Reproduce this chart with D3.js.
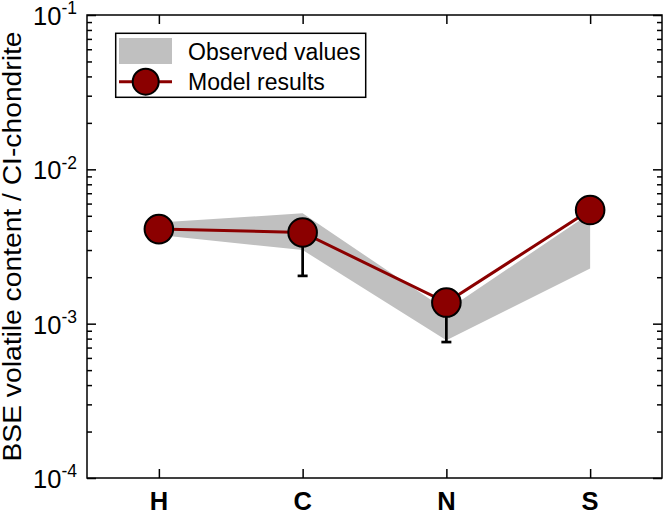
<!DOCTYPE html>
<html>
<head>
<meta charset="utf-8">
<script src="https://cdn.jsdelivr.net/npm/d3@7"></script>
<style>
  body { margin: 0; background: #fff; }
  svg { display: block; }
  text { font-family: "Liberation Sans", Arial, Helvetica, sans-serif; fill: #000; }
</style>
</head>
<body>
<svg id="chart" width="664" height="514"></svg>
<script>
// ---- data ----
const categories = ["H", "C", "N", "S"];
const modelValues = [0.0041, 0.0039, 0.00137, 0.00545];
const errorLow = [null, 0.00204, 0.00076, null];
const observedHigh = [0.00452, 0.00519, 0.00122, 0.0052];
const observedLow = [0.00375, 0.0030, 0.00078, 0.00228];
const yMajorTicks = [1e-4, 1e-3, 1e-2, 1e-1];
const yTickExponents = ["-4", "-3", "-2", "-1"];
const legendLabels = ["Observed values", "Model results"];
const yTitle = "BSE volatile content / CI-chondrite";

// ---- layout ----
const L = 87, R = 662, T = 15, B = 478;
const red = "#8b0000", gray = "#c0c0c0";
const svg = d3.select("#chart");

const x = d3.scalePoint().domain(categories).range([L, R]).padding(0.5);
const y = d3.scaleLog().domain([1e-4, 1e-1]).range([B, T]);

const minorTicks = [];
yMajorTicks.slice(0, -1).forEach(d => { for (let k = 2; k <= 9; k++) minorTicks.push(d * k); });

// observed band
const bandData = categories.map((c, i) => ({ c, lo: observedLow[i], hi: observedHigh[i] }));
svg.append("path")
  .datum(bandData)
  .attr("fill", gray)
  .attr("d", d3.area().x(d => x(d.c)).y0(d => y(d.lo)).y1(d => y(d.hi)));

// error bars
const errData = categories.map((c, i) => ({ c, v: modelValues[i], lo: errorLow[i] })).filter(d => d.lo != null);
const eb = svg.append("g");
eb.selectAll("line.stem").data(errData).join("line")
  .attr("x1", d => x(d.c)).attr("x2", d => x(d.c))
  .attr("y1", d => y(d.v)).attr("y2", d => y(d.lo))
  .attr("stroke", "#000").attr("stroke-width", 2.7);
eb.selectAll("line.cap").data(errData).join("line")
  .attr("x1", d => x(d.c) - 5).attr("x2", d => x(d.c) + 5)
  .attr("y1", d => y(d.lo)).attr("y2", d => y(d.lo))
  .attr("stroke", "#000").attr("stroke-width", 2.7);

// model line
const modelData = categories.map((c, i) => ({ c, v: modelValues[i] }));
svg.append("path").datum(modelData)
  .attr("fill", "none").attr("stroke", red).attr("stroke-width", 3)
  .attr("d", d3.line().x(d => x(d.c)).y(d => y(d.v)));
svg.selectAll("circle.m").data(modelData).join("circle")
  .attr("cx", d => x(d.c)).attr("cy", d => y(d.v)).attr("r", 14.3)
  .attr("fill", red).attr("stroke", "#000").attr("stroke-width", 2);

// axes (ticks inward)
function styleAxis(g) {
  g.selectAll("path.domain").remove();
  g.selectAll("line").attr("stroke", "#000").attr("stroke-width", 1.5);
}
svg.append("g").attr("transform", `translate(${L},0)`)
  .call(d3.axisLeft(y).tickValues(yMajorTicks).tickSize(-9).tickFormat("")).call(styleAxis);
svg.append("g").attr("transform", `translate(${L},0)`)
  .call(d3.axisLeft(y).tickValues(minorTicks).tickSize(-5).tickFormat("")).call(styleAxis);
svg.append("g").attr("transform", `translate(${R},0)`)
  .call(d3.axisRight(y).tickValues(yMajorTicks).tickSize(-9).tickFormat("")).call(styleAxis);
svg.append("g").attr("transform", `translate(${R},0)`)
  .call(d3.axisRight(y).tickValues(minorTicks).tickSize(-5).tickFormat("")).call(styleAxis);
svg.append("g").attr("transform", `translate(0,${B})`)
  .call(d3.axisBottom(x).tickSize(-9).tickFormat("")).call(styleAxis);
svg.append("g").attr("transform", `translate(0,${T})`)
  .call(d3.axisTop(x).tickSize(-9).tickFormat("")).call(styleAxis);

// frame
svg.append("rect").attr("x", L).attr("y", T).attr("width", R - L).attr("height", B - T)
  .attr("fill", "none").attr("stroke", "#000").attr("stroke-width", 1.5);

// y tick labels
const yl = svg.append("g");
yMajorTicks.forEach((v, i) => {
  const t = yl.append("text").attr("x", 77).attr("y", y(v) + 10)
    .attr("text-anchor", "end").style("font-size", "25.5px");
  t.append("tspan").text("10");
  t.append("tspan").attr("dy", -10.6).style("font-size", "17.5px").text(yTickExponents[i]);
});

// x tick labels
svg.selectAll("text.xl").data(categories).join("text")
  .attr("x", d => x(d)).attr("y", 510).attr("text-anchor", "middle")
  .style("font-size", "25.5px").style("font-weight", "bold").text(d => d);

// y title
svg.append("text").attr("transform", `translate(21,${(T + B) / 2}) rotate(-90)`)
  .attr("text-anchor", "middle").style("font-size", "26px")
  .attr("textLength", 430).attr("lengthAdjust", "spacingAndGlyphs")
  .text(yTitle);

// legend
const lg = svg.append("g");
lg.append("rect").attr("x", 115.7).attr("y", 33.3).attr("width", 250).attr("height", 64)
  .attr("fill", "#fff").attr("stroke", "#000").attr("stroke-width", 1.5);
lg.append("rect").attr("x", 119).attr("y", 38).attr("width", 53).attr("height", 26).attr("fill", gray);
lg.append("line").attr("x1", 119).attr("x2", 172).attr("y1", 81.7).attr("y2", 81.7)
  .attr("stroke", red).attr("stroke-width", 3);
lg.append("circle").attr("cx", 145.7).attr("cy", 81.7).attr("r", 13)
  .attr("fill", red).attr("stroke", "#000").attr("stroke-width", 2);
lg.append("text").attr("x", 188).attr("y", 59.5).style("font-size", "23px").text(legendLabels[0]);
lg.append("text").attr("x", 188).attr("y", 89.7).style("font-size", "23px").text(legendLabels[1]);
</script>
</body>
</html>
